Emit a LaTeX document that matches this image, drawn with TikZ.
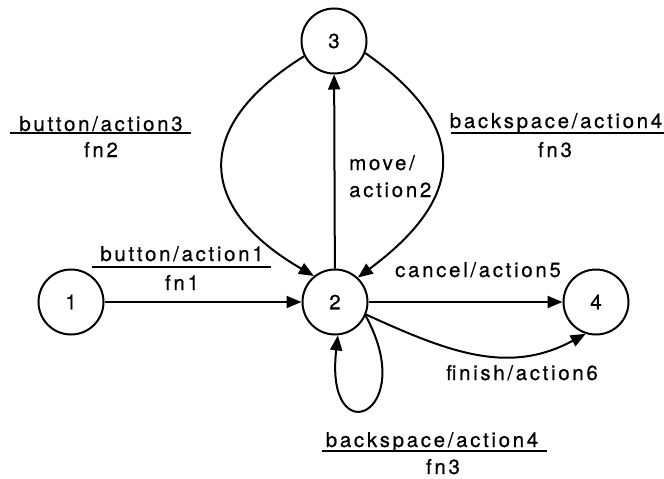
\documentclass[tikz,border=0pt]{standalone}
\usepackage{fontspec}
\setmainfont{TeX Gyre Heros}[LetterSpace=13,FakeBold=0.6]
\usetikzlibrary{arrows.meta}
\begin{document}
\begin{tikzpicture}[x=1pt,y=-1pt,
  every node/.style={font=\fontsize{20.5}{24}\selectfont, inner sep=0pt},
  state/.style={draw, circle, line width=2pt, minimum size=65pt},
  edge/.style={line width=2pt, -{Triangle[length=15pt,width=12pt]}},
  bar/.style={line width=2.2pt},
  lab/.style={anchor=base}]
\useasboundingbox (0,0) rectangle (664,479);
\node[state] (n1) at (71,302) {1};
\node[state] (n2) at (335,302) {2};
\node[state] (n3) at (334,41) {3};
\node[state] (n4) at (596,302) {4};
\draw[edge] (n1) -- (n2);
\draw[edge] (n2) -- (n3);
\draw[edge] (n2) -- (n4);
\draw[edge] (n3.207) .. controls (190,127) and (198,209) .. (n2.129);
\draw[edge] (n3.-21) .. controls (472,128) and (465,198) .. (n2.47);
\draw[edge] (n2.-24) .. controls (420,415) and (324,455) .. (n2.-85);
\draw[edge] (n2.-22) .. controls (450,353) and (509,375) .. (n4.-108);
\node[lab] (t3) at (101,131) {button/action3};
\node[lab] (f2) at (101,157) {fn2};
\draw[bar] (10,133) -- (191,133);
\node[lab] (t4) at (556,128) {backspace/action4};
\node[lab] (f3) at (555,157) {fn3};
\draw[bar] (451,133) -- (664,133);
\node[lab,anchor=base west] (m1) at (349,170) {move/};
\node[lab,anchor=base west] (m2) at (349,197) {action2};
\node[lab] (t1) at (182,261) {button/action1};
\node[lab] (f1) at (182,290) {fn1};
\draw[bar] (92,267) -- (271,267);
\node[lab] (c5) at (478,277) {cancel/action5};
\node[lab] (f6) at (522,380) {finish/action6};
\node[lab] (tb) at (432,447) {backspace/action4};
\draw[bar] (322,451) -- (547,451);
\node[lab] (fb) at (443,474) {fn3};
\end{tikzpicture}
\end{document}
